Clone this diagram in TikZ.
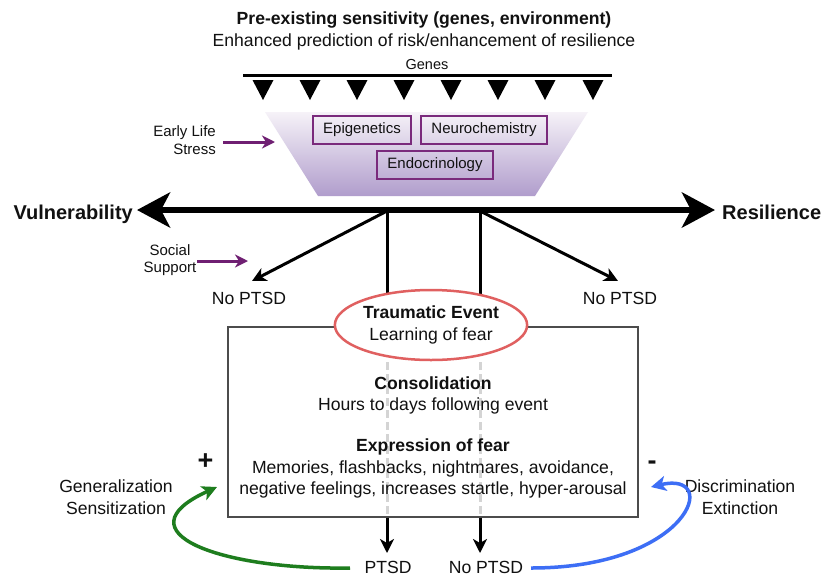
\documentclass[tikz,border=0pt]{standalone}
\usepackage{fontspec}
\setmainfont{Liberation Sans}
\usetikzlibrary{shapes.geometric,arrows.meta}
\definecolor{purp}{HTML}{6F1F72}
\definecolor{boxpurp}{HTML}{7A2A7C}
\definecolor{trtop}{HTML}{F6F2F8}
\definecolor{trbot}{HTML}{B09DCC}
\definecolor{ellred}{HTML}{E06060}
\definecolor{dgreen}{HTML}{1E7D1E}
\definecolor{dblue}{HTML}{3D6EF5}
\definecolor{dashgray}{HTML}{D4D4D4}
\definecolor{txt}{HTML}{111111}
\newcommand\mainsz{\fontsize{17.6}{21.5}\selectfont}
\newcommand\smallsz{\fontsize{15}{17.5}\selectfont}
\newcommand\genesz{\fontsize{14.5}{16}\selectfont}
\newcommand\bigsz{\fontsize{20}{24}\selectfont}
\newcommand\signsz{\fontsize{27}{30}\selectfont}
\tikzset{
  lbl/.style={inner sep=0pt, text=txt, font=\mainsz},
  slbl/.style={inner sep=0pt, text=txt, font=\smallsz},
  factor/.style={draw=boxpurp, line width=1.8pt, inner sep=0pt, minimum height=28pt, text=txt, font=\smallsz},
  branch/.style={line width=3pt, -{Stealth[length=14pt,width=14pt,inset=4pt]}},
  plain/.style={line width=3pt},
  purparrow/.style={draw=purp, line width=3pt, -{Stealth[length=13pt,width=13pt,inset=4pt]}},
  dashline/.style={draw=dashgray, line width=3pt, dash pattern=on 8pt off 4pt},
  loopgreen/.style={draw=dgreen, line width=3.5pt, -{Stealth[length=15pt,width=15pt,inset=4pt]}},
  loopblue/.style={draw=dblue, line width=3.5pt, -{Stealth[length=15pt,width=15pt,inset=4pt]}},
}
\begin{document}
\begin{tikzpicture}[x=1pt,y=-1pt]
\useasboundingbox[fill=white] (0,0) rectangle (822,579);

% title
\node[lbl, anchor=base] (t1) at (424,24) {\bfseries Pre-existing sensitivity (genes, environment)};
\node[lbl, anchor=base] (t2) at (424,46) {Enhanced prediction of risk/enhancement of resilience};
\node[inner sep=0pt, anchor=base, font=\genesz, text=txt] (genes) at (427,69) {Genes};

% genes line and triangles
\draw[line width=3pt] (243,75) -- (612,75);
\foreach \x in {263,310,357,404,451,498,545,593}
  \fill (\x-10.5,80) -- (\x+10.5,80) -- (\x,100) -- cycle;

% trapezoid
\shade[top color=trtop, bottom color=trbot] (265,112) -- (588,112) -- (535,196) -- (318,196) -- cycle;
\node[factor, minimum width=98pt] (epi) at (362,130) {Epigenetics};
\node[factor, minimum width=126pt] (neuro) at (484,130) {Neurochemistry};
\node[factor, minimum width=116pt] (endo) at (435,165) {Endocrinology};

% early life stress
\node[slbl, align=right, anchor=east] (els) at (216,140) {Early Life\\Stress};
\coordinate (elsTip) at (275,142);
\draw[purparrow] (223,142) -- (elsTip);

% main axis
\coordinate (axL) at (137,210);
\coordinate (axR) at (715,210);
\draw[line width=6pt, {Stealth[length=33pt,width=35pt,inset=9pt]}-{Stealth[length=33pt,width=35pt,inset=9pt]}] (axL) -- (axR);
\node[inner sep=0pt, anchor=base east, font=\bigsz\bfseries, text=txt] (vul) at (133,219) {Vulnerability};
\node[inner sep=0pt, anchor=base west, font=\bigsz\bfseries, text=txt] (res) at (722,219) {Resilience};

% social support
\node[slbl, align=center] (soc) at (170,260) {Social\\Support};
\coordinate (socTip) at (248,261);
\draw[purparrow] (197,261) -- (socTip);

% branches
\coordinate (b1) at (387,210);
\coordinate (b2) at (480,210);
\coordinate (a1) at (252,281);
\coordinate (a2) at (618,281);
\node[lbl, anchor=base] (np1) at (249,304) {No PTSD};
\node[lbl, anchor=base] (np2) at (620,304) {No PTSD};
\draw[branch] ([yshift=-1pt]b1) -- (a1);
\draw[branch] ([yshift=-1pt]b2) -- (a2);
\draw[plain] (b1) -- (387,320);
\draw[plain] (b2) -- (480,320);

% main box
\node[draw=black!70, line width=1.2pt, fill=white, minimum width=410pt, minimum height=190pt, inner sep=0pt] (box) at (433,422) {};

% dashed lines
\draw[dashline] (387,362) -- (b1 |- box.south);
\draw[dashline] (480,362) -- (b2 |- box.south);

% ellipse
\node[ellipse, draw=ellred, line width=2.5pt, fill=white, minimum width=192pt, minimum height=70pt, inner sep=0pt, align=center, font=\fontsize{17.6}{22}\selectfont, text=txt] (te) at (431,325) {\bfseries Traumatic Event\\Learning of fear};

% box texts
\node[lbl, anchor=base] (c1) at (433,389) {\bfseries Consolidation};
\node[lbl, anchor=base] (c2) at (433,410) {Hours to days following event};
\node[lbl, anchor=base] (e1) at (433,451) {\bfseries Expression of fear};
\node[lbl, anchor=base] (e2) at (433,473) {Memories, flashbacks, nightmares, avoidance,};
\node[lbl, anchor=base] (e3) at (433,494) {negative feelings, increases startle, hyper-arousal};

\node[inner sep=0pt, font=\signsz\bfseries, text=txt] (plus) at (205.5,462) {+};
\node[inner sep=0pt, font=\signsz\bfseries, text=txt] (minus) at (652,465) {-};

% outcomes
\node[lbl, anchor=base] (ptsd) at (388,573) {PTSD};
\node[lbl, anchor=base] (nptsd) at (486,573) {No PTSD};
\coordinate (o1) at (387,553);
\coordinate (o2) at (480,553);
\draw[branch] (b1 |- box.south) -- (o1);
\draw[branch] (b2 |- box.south) -- (o2);

% feedback loops
\node[lbl, align=center] (gen) at (116,497) {Generalization\\Sensitization};
\node[lbl, align=center] (dis) at (740,497) {Discrimination\\Extinction};
\coordinate (gStart) at (350,568);
\coordinate (gTip) at (217,487);
\coordinate (bStart) at (531,568);
\coordinate (bTip) at (651,487);
\draw[loopgreen] (gStart) .. controls (220,570) and (118,532) .. (gTip);
\draw[loopblue] (bStart) .. controls (690,568) and (722,470) .. (bTip);
\end{tikzpicture}
\end{document}
